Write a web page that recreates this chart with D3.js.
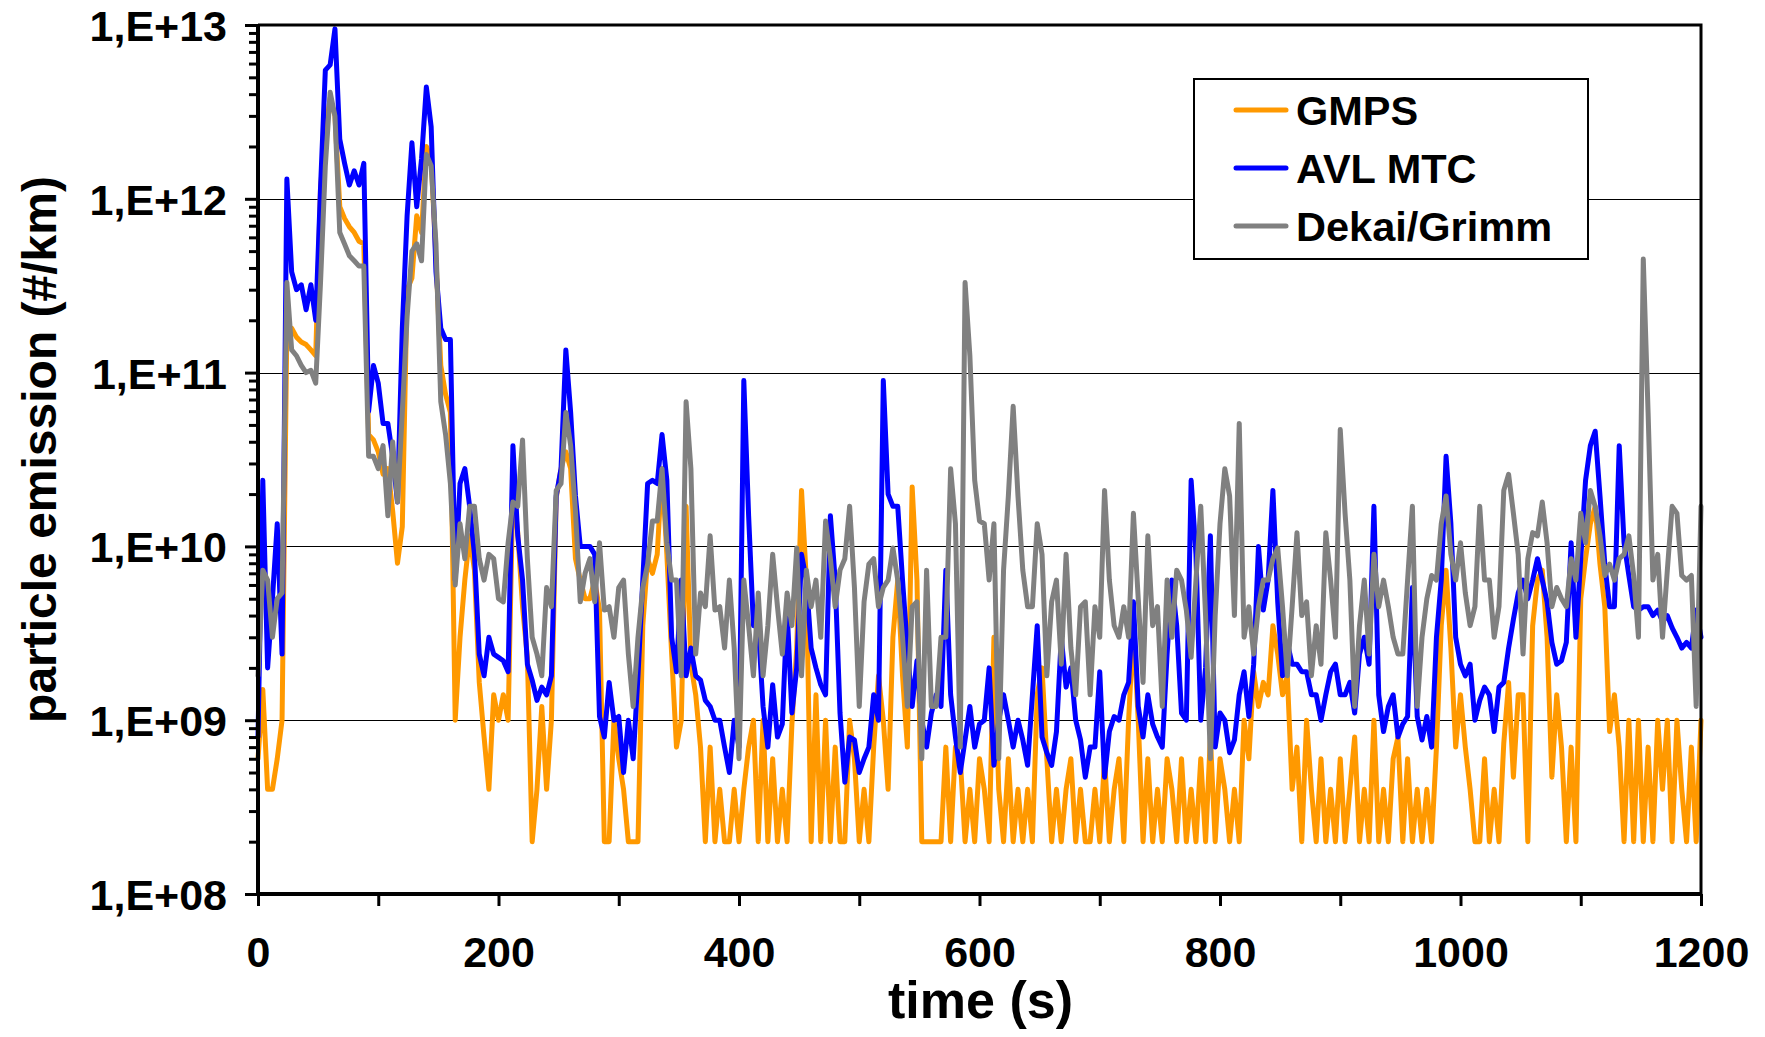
<!DOCTYPE html>
<html>
<head>
<meta charset="utf-8">
<script src="https://cdn.jsdelivr.net/npm/d3@7"></script>
<style>
  html, body { margin: 0; padding: 0; background: #fff; }
  svg text { font-family: "Liberation Sans", Arial, sans-serif; font-weight: bold; fill: #000; }
</style>
</head>
<body>
<div id="chart"></div>
<script>
// time axis: one reading every 4 s
var time = d3.range(0, 1201, 4);

var gmps = [
  6e8, 1.5e9, 4e8, 4e8, 6e8, 1e9, 1.8e11, 1.8e11, 1.6e11, 1.5e11,
  1.45e11, 1.35e11, 1.25e11, 1.16e12, 2.4e12, 3.8e12, 3e12, 9e11, 7.7e11, 6.9e11,
  6.4e11, 5.7e11, 5.5e11, 4.4e10, 4.1e10, 3.5e10, 2.6e10, 2.8e10, 1.6e10, 8e9,
  1.3e10, 3e11, 3.5e11, 8e11, 6.4e11, 2e12, 1.7e12, 4.5e11, 1.1e11, 7.5e10,
  5.9e10, 1e9, 3e9, 6.4e9, 1.15e10, 7.3e9, 1.65e9, 8e8, 4e8, 1.4e9, 1e9,
  1.4e9, 1e9, 2.2e10, 1.2e10, 4.5e9, 2.3e9, 2e8, 4e8, 1.2e9, 4e8,
  1e9, 1.9e10, 2.8e10, 3.5e10, 2.8e10, 8.5e9, 6.4e9, 5e9, 5e9, 6.4e9,
  4.3e9, 2e8, 2e8, 1e9, 6e8, 4e8, 2e8, 2e8, 2e8, 3.5e9,
  8.5e9, 7e9, 9e9, 2.8e10, 9e9, 2.4e9, 7e8, 1e9, 1.7e10, 2.1e9,
  1.4e9, 7e8, 2e8, 7e8, 2e8, 4e8, 2e8, 2e8, 4e8, 2e8,
  4e8, 7e8, 1e9, 2e8, 1e9, 2e8, 6e8, 2e8, 4e8, 2e8,
  9.5e8, 2.6e9, 2.1e10, 6.4e9, 2e8, 1.4e9, 2e8, 1e9, 2e8, 7e8,
  2e8, 2e8, 1e9, 6e8, 2e8, 4e8, 2e8, 7e8, 1.8e9, 1e9,
  4e8, 3e9, 6.4e9, 1.8e9, 7e8, 2.2e10, 6.4e9, 2e8, 2e8, 2e8,
  2e8, 2e8, 7e8, 2e8, 7e8, 6e8, 2e8, 4e8, 2e8, 6e8,
  4e8, 2e8, 3e9, 4e8, 2e8, 6e8, 2e8, 4e8, 2e8, 4e8,
  2e8, 1.4e9, 2e9, 6e8, 2e8, 4e8, 2e8, 4e8, 6e8, 2e8,
  4e8, 2e8, 2e8, 4e8, 2e8, 6e8, 2e8, 4e8, 6e8, 2e8,
  1e9, 3.5e9, 1e9, 2e8, 6e8, 2e8, 4e8, 2e8, 6e8, 4e8,
  2e8, 6e8, 2e8, 4e8, 2e8, 6e8, 2e8, 8e8, 2e8, 6e8,
  4e8, 2e8, 4e8, 2e8, 1e9, 6e8, 1.9e9, 1.2e9, 1.65e9, 1.4e9,
  3.5e9, 2.4e9, 1.4e9, 1.8e9, 4e8, 7e8, 2e8, 1e9, 4e8, 2e8,
  6e8, 2e8, 4e8, 2e8, 6e8, 2e8, 4e8, 8e8, 2e8, 4e8,
  2e8, 1e9, 2e8, 4e8, 2e8, 6e8, 8e8, 2e8, 6e8, 2e8,
  4e8, 2e8, 4e8, 2e8, 7e8, 3.5e9, 7.3e9, 2.6e9, 7e8, 1.4e9,
  7e8, 4e8, 2e8, 2e8, 6e8, 2e8, 4e8, 2e8, 7.4e8, 1.65e9,
  4.7e8, 1.4e9, 1.4e9, 2e8, 3.5e9, 6.4e9, 7.3e9, 3e9, 4.7e8, 1.4e9,
  7e8, 2e8, 7e8, 2e8, 5e9, 8.5e9, 1.35e10, 1.7e10, 7.9e9, 4.5e9,
  8.6e8, 1.4e9, 7e8, 2e8, 1e9, 2e8, 1e9, 2e8, 7e8, 2e8,
  1e9, 4e8, 1e9, 2e8, 1e9, 4e8, 2e8, 7e8, 2e8, 1e9
];

var avl = [
  8e8, 2.4e10, 2e9, 5e9, 1.35e10, 2.4e9, 1.3e12, 3.8e11, 3e11, 3.2e11,
  2.3e11, 3.2e11, 2e11, 1.16e12, 5.5e12, 5.9e12, 9.5e12, 2.2e12, 1.6e12, 1.2e12,
  1.45e12, 1.2e12, 1.6e12, 6e10, 1.1e11, 8.7e10, 5.1e10, 5.1e10, 3.3e10, 1.8e10,
  1.8e11, 8e11, 2.1e12, 9e11, 1.7e12, 4.4e12, 2.6e12, 3.8e11, 1.8e11, 1.55e11,
  1.55e11, 6.4e9, 2.3e10, 2.8e10, 1.7e10, 9e9, 2.4e9, 1.8e9, 3e9, 2.4e9, 2.3e9,
  2.2e9, 1.9e9, 3.8e10, 1.15e10, 6.4e9, 2.1e9, 1.7e9, 1.3e9, 1.55e9, 1.4e9,
  1.8e9, 1.95e10, 2.8e10, 1.35e11, 5.9e10, 1.95e10, 1e10, 1e10, 1e10, 9e9,
  1.05e9, 8e8, 1.65e9, 1e9, 1.05e9, 5e8, 1e9, 6e8, 1.8e9, 6.4e9,
  2.3e10, 2.4e10, 2.3e10, 4.4e10, 2.4e10, 3e9, 1.9e9, 6.4e9, 1.8e9, 2.6e9,
  1.8e9, 1.7e9, 1.3e9, 1.2e9, 1e9, 1e9, 7e8, 5e8, 1e9, 7e8,
  9e10, 1.5e10, 3.5e9, 3.5e9, 1.2e9, 7e8, 1.6e9, 8e8, 9.5e8, 4.3e9,
  1.1e9, 2e9, 9e9, 6.4e9, 2.6e9, 2e9, 1.6e9, 1.4e9, 1.5e10, 6.4e9,
  1.1e9, 4.4e8, 8e8, 7.7e8, 5e8, 6e8, 7e8, 1.4e9, 1e9, 9e10,
  2e10, 1.7e10, 1.7e10, 6.4e9, 2.6e9, 1.2e9, 2.2e9, 1e9, 7e8, 1.1e9,
  1.4e9, 1.2e9, 7.3e9, 1.4e9, 8e8, 5e8, 7.7e8, 1.2e9, 7e8, 9.5e8,
  1e9, 2e9, 5.5e8, 1e9, 1.4e9, 1e9, 7e8, 1e9, 7.7e8, 5.5e8,
  1.4e9, 3.5e9, 8e8, 6.5e8, 5.5e8, 8.6e8, 3e9, 1.55e9, 2e9, 1e9,
  7.7e8, 4.7e8, 7e8, 7e8, 1.9e9, 4.7e8, 8.6e8, 1.05e9, 1e9, 1.4e9,
  1.65e9, 4.8e9, 1.2e9, 8e8, 1.4e9, 9.5e8, 8e8, 7e8, 2.4e9, 6.4e9,
  3.5e9, 1.1e9, 1e9, 2.4e10, 9e9, 1e9, 2e9, 1.15e10, 7e8, 1.1e9,
  1e9, 6.5e8, 7.7e8, 1.4e9, 1.9e9, 1.05e9, 2.1e9, 1e10, 4.3e9, 6.4e9,
  2.1e10, 4.8e9, 1.8e9, 2.8e9, 2.1e9, 2.1e9, 1.9e9, 1.9e9, 1.4e9, 1.4e9,
  1e9, 1.4e9, 1.9e9, 2.1e9, 1.4e9, 1.4e9, 1.65e9, 1.1e9, 2.4e9, 3e9,
  2.1e9, 1.7e10, 1.4e9, 8.6e8, 1.2e9, 1.4e9, 8e8, 9.5e8, 1.05e9, 5.8e9,
  1.05e9, 7.7e8, 1.05e9, 7e8, 3e9, 6.4e9, 3.3e10, 1.35e10, 3e9, 2.1e9,
  1.8e9, 2.1e9, 1e9, 1.3e9, 1.55e9, 1.4e9, 8.6e8, 1.55e9, 1.65e9, 2.6e9,
  3.8e9, 5.4e9, 6.4e9, 5e9, 6.4e9, 8.5e9, 6.4e9, 4.8e9, 2.8e9, 2.1e9,
  2.2e9, 2.8e9, 1.05e10, 3e9, 8.5e9, 2.4e10, 3.8e10, 4.6e10, 1.95e10, 7.9e9,
  4.5e9, 4.5e9, 3.8e10, 1.05e10, 6.8e9, 4.5e9, 4.3e9, 4.5e9, 4.5e9, 4e9,
  4.3e9, 3.7e9, 4e9, 3.4e9, 3e9, 2.6e9, 2.8e9, 2.6e9, 4.3e9, 3e9
];

var dekai = [
  1.8e9, 7.3e9, 6.4e9, 3e9, 5e9, 5.4e9, 3.3e11, 1.35e11, 1.25e11, 1.1e11,
  1e11, 1.03e11, 8.7e10, 3.3e11, 1.55e12, 4.1e12, 3e12, 6.4e11, 5.5e11, 4.7e11,
  4.4e11, 4.1e11, 4.1e11, 3.3e10, 3.3e10, 2.8e10, 3.8e10, 1.5e10, 4e10, 1.8e10,
  5.9e10, 2.1e11, 5e11, 5.5e11, 4.4e11, 1.8e12, 1.55e12, 5.5e11, 6.8e10, 4.4e10,
  2.3e10, 6e9, 1.35e10, 8.5e9, 1.7e10, 1.7e10, 8.5e9, 6.4e9, 9e9, 8.5e9, 5e9,
  4.8e9, 1.05e10, 1.8e10, 1.7e10, 4.1e10, 8.5e9, 3e9, 2.4e9, 1.8e9, 5.8e9,
  4.5e9, 2.1e10, 2.3e10, 5.9e10, 3.8e10, 1.6e10, 4.8e9, 7e9, 8.5e9, 4.8e9,
  1.05e10, 4.3e9, 4.5e9, 3e9, 5.8e9, 6.4e9, 2.4e9, 1.2e9, 3e9, 5.8e9,
  7.9e9, 1.4e10, 1.4e10, 2.8e10, 1.05e10, 6.4e9, 6.4e9, 1.8e9, 6.8e10, 2.8e10,
  2.4e9, 5.4e9, 4.5e9, 1.15e10, 4.3e9, 4.5e9, 2.6e9, 6.4e9, 2.6e9, 6e8,
  6.4e9, 3.5e9, 1.8e9, 5.4e9, 1.8e9, 3.5e9, 9e9, 4.5e9, 2.4e9, 5.4e9,
  3.5e9, 9.8e9, 1.8e9, 7.3e9, 4.5e9, 6.4e9, 3e9, 1.4e10, 8.5e9, 4.5e9,
  7.3e9, 8.5e9, 1.7e10, 5.8e9, 1.2e9, 4.8e9, 7.9e9, 8.5e9, 4.5e9, 5.8e9,
  6.4e9, 9.8e9, 6.4e9, 3e9, 1.2e9, 4.5e9, 4.8e9, 6e8, 7.3e9, 1.2e9,
  1.2e9, 3e9, 3e9, 2.8e10, 1.35e10, 7e8, 3.3e11, 1.25e11, 2.4e10, 1.4e10,
  1.35e10, 6.4e9, 1.35e10, 6e8, 7.3e9, 1.95e10, 6.4e10, 1.95e10, 7.3e9, 4.5e9,
  4.5e9, 1.35e10, 9e9, 1.8e9, 4.8e9, 6.4e9, 2.1e9, 9e9, 2.6e9, 1.4e9,
  4.5e9, 4.8e9, 1.4e9, 4.5e9, 3e9, 2.1e10, 6.4e9, 3.5e9, 3e9, 4.5e9,
  3e9, 1.55e10, 5e9, 1.65e9, 1.15e10, 3.5e9, 4.5e9, 1.2e9, 6.4e9, 3e9,
  7.3e9, 6.4e9, 4.3e9, 2.3e9, 6.4e9, 1.7e10, 4e9, 6e8, 4e9, 1.35e10,
  2.8e10, 1.95e10, 4e9, 5.1e10, 3e9, 4.5e9, 2.4e9, 4.5e9, 6.4e9, 6.4e9,
  8.5e9, 9.8e9, 4.5e9, 1.8e9, 4.5e9, 1.2e10, 4e9, 4.8e9, 1.8e9, 3.5e9,
  2.1e9, 1.2e10, 6.4e9, 3e9, 4.7e10, 1.55e10, 6.4e9, 1.2e9, 3.5e9, 6.4e9,
  2.4e9, 9e9, 4.5e9, 6.4e9, 4.5e9, 3e9, 2.4e9, 2.4e9, 6.4e9, 1.7e10,
  1.2e9, 3e9, 5e9, 6.8e9, 6.4e9, 1.35e10, 1.95e10, 9e9, 6.4e9, 1.05e10,
  5.4e9, 3.5e9, 4.5e9, 1.7e10, 6.4e9, 6.4e9, 3e9, 4.5e9, 2.1e10, 2.6e10,
  1.55e10, 9e9, 2.4e9, 8.5e9, 1.2e10, 1.15e10, 1.8e10, 1.05e10, 4.5e9, 5.8e9,
  5e9, 4.5e9, 8.5e9, 6.4e9, 1.55e10, 1.05e10, 2.1e10, 1.7e10, 1.15e10, 6.8e9,
  7.9e9, 6.4e9, 8.5e9, 9e9, 1.15e10, 6.8e9, 3e9, 4.5e11, 5.9e10, 6.4e9,
  9e9, 3e9, 7.3e9, 1.7e10, 1.55e10, 6.8e9, 6.4e9, 6.8e9, 1.2e9, 1.7e10
];

var seriesNames = ["GMPS", "AVL MTC", "Dekai/Grimm"];
var seriesColors = ["#FF9900", "#0000FF", "#808080"];
var xTicks = d3.range(0, 1201, 200);
var yTicks = [1e8, 1e9, 1e10, 1e11, 1e12, 1e13];

var width = 1765, height = 1037;
var plotL = 258, plotR = 1701, plotT = 25, plotB = 894;

var svg = d3.select("#chart").append("svg")
    .attr("width", width).attr("height", height);

var x = d3.scaleLinear().domain([0, 1200]).range([plotL, plotR]);
var y = d3.scaleLog().domain([1e8, 1e13]).range([plotB, plotT]);

// gridlines
svg.append("g")
  .selectAll("line")
  .data(yTicks.slice(1, -1))
  .enter().append("line")
    .attr("x1", plotL).attr("x2", plotR)
    .attr("y1", function(d) { return Math.round(y(d)) + 0.5; })
    .attr("y2", function(d) { return Math.round(y(d)) + 0.5; })
    .style("stroke", "#000")
    .style("stroke-width", 1);

// series
var line = d3.line()
    .x(function(d) { return x(d[0]); })
    .y(function(d) { return y(d[1]); });

[gmps, avl, dekai].forEach(function(vals, i) {
  var pts = time.map(function(t, k) { return [t, vals[k]]; })
                .filter(function(d) { return d[1] != null; });
  svg.append("path")
    .datum(pts)
    .attr("d", line)
    .style("fill", "none")
    .style("stroke", seriesColors[i])
    .style("stroke-width", 5)
    .style("stroke-linejoin", "round")
    .style("stroke-linecap", "round");
});

// frame: top/right
svg.append("path")
  .attr("d", "M" + plotL + "," + plotT + "H" + plotR + "V" + plotB)
  .style("fill", "none").style("stroke", "#000").style("stroke-width", 3);

// y axis: major + minor log ticks
var minor = [];
for (var e = 8; e < 13; e++) for (var m = 2; m <= 9; m++) minor.push(m * Math.pow(10, e));

var yMinor = svg.append("g")
  .attr("transform", "translate(" + plotL + ",0)")
  .call(d3.axisLeft(y).tickValues(minor).tickSize(9).tickFormat(""));
var yMajor = svg.append("g")
  .attr("transform", "translate(" + plotL + ",0)")
  .call(d3.axisLeft(y).tickValues(yTicks).tickSize(13).tickPadding(18)
    .tickFormat(function(d) { return "1,E+" + d3.format("02d")(Math.round(Math.log10(d))); }));

// x axis
var xMinor = svg.append("g")
  .attr("transform", "translate(0," + plotB + ")")
  .call(d3.axisBottom(x).tickValues(d3.range(100, 1200, 200)).tickSize(12).tickFormat(""));
var xMajor = svg.append("g")
  .attr("transform", "translate(0," + plotB + ")")
  .call(d3.axisBottom(x).tickValues(xTicks).tickSize(12).tickPadding(30).tickFormat(d3.format("d")));

[yMinor, yMajor, xMinor, xMajor].forEach(function(g) {
  g.select(".domain").remove();
  g.selectAll(".tick line").style("stroke", "#000").style("stroke-width", 3);
  g.selectAll("text").style("font-size", "43px").style("font-family", null);
});
yMajor.selectAll("text").attr("dy", "0.36em");

// axis lines left/bottom
svg.append("path")
  .attr("d", "M" + plotL + "," + plotT + "V" + plotB + "H" + plotR)
  .style("fill", "none").style("stroke", "#000").style("stroke-width", 4);

// axis titles
svg.append("text")
  .attr("x", (plotL + plotR) / 2 + 1).attr("y", 1018)
  .attr("text-anchor", "middle")
  .style("font-size", "52px")
  .text("time (s)");

svg.append("text")
  .attr("transform", "translate(56," + ((plotT + plotB) / 2 - 10) + ") rotate(-90)")
  .attr("text-anchor", "middle")
  .style("font-size", "48px")
  .text("particle emission (#/km)");

// legend
var legend = svg.append("g").attr("transform", "translate(1194,79)");
legend.append("rect")
  .attr("width", 394).attr("height", 180)
  .style("fill", "#fff").style("stroke", "#000").style("stroke-width", 2);
seriesNames.forEach(function(name, i) {
  var cy = 31 + i * 58;
  legend.append("line")
    .attr("x1", 42).attr("x2", 92).attr("y1", cy).attr("y2", cy)
    .style("stroke", seriesColors[i]).style("stroke-width", 5)
    .style("stroke-linecap", "round");
  legend.append("text")
    .attr("x", 102).attr("y", cy).attr("dy", "0.36em")
    .style("font-size", "41.5px")
    .text(name);
});
</script>
</body>
</html>
